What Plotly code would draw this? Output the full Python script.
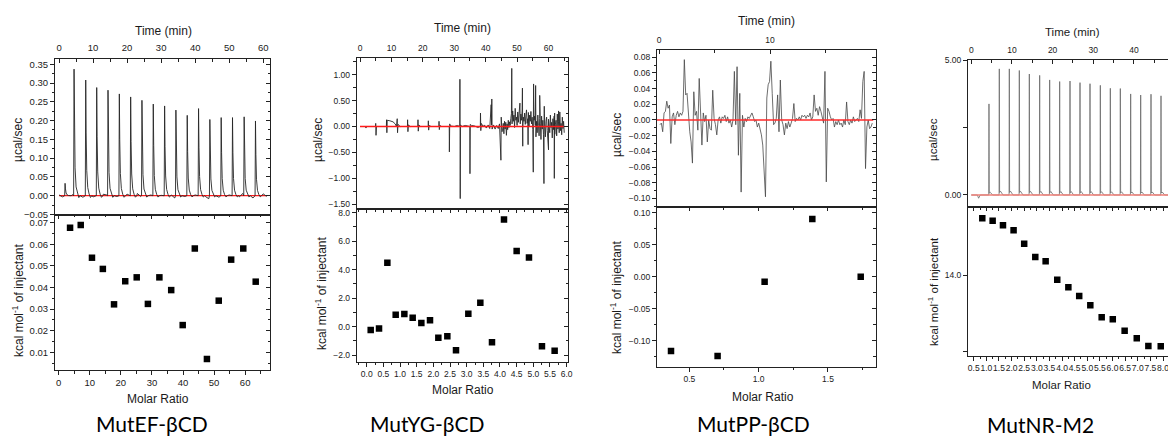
import plotly.graph_objects as go

PAGE_W, PAGE_H = 1176, 436
OFF = 8  # the page body margin that offsets the plot div
W, H = PAGE_W - OFF, PAGE_H - OFF
FONT = "Liberation Sans, Arial, sans-serif"
LABEL_FONT = "Lato, Open Sans, sans-serif"
LINE = "#222222"
TXT = "#1a1a1a"

# ============ DATA ============
# --- Panel 1: MutEF-βCD ---
EF_PEAK_TIME = [1.76, 4.40, 7.83, 11.06, 14.38, 17.71, 21.04, 24.36, 27.69, 31.02,
                34.34, 37.67, 41.00, 44.32, 47.65, 50.98, 54.40, 57.73]
EF_PEAK_HEIGHT = [0.033, 0.337, 0.308, 0.288, 0.281, 0.271, 0.263, 0.254, 0.244, 0.239,
                  0.228, 0.214, 0.232, 0.203, 0.208, 0.208, 0.210, 0.199]
EF_BASE_NOISE = [0.002, -0.003, 0.004, -0.020, 0.003, -0.002, 0.005, -0.004, 0.002, 0.006,
                 -0.003, 0.001, -0.005, 0.004, 0.002, -0.003, 0.005, -0.002, 0.003, -0.006,
                 0.004, 0.001, -0.003, 0.006, -0.002, 0.003, -0.005, 0.002, 0.004, -0.004,
                 0.001, 0.005, -0.003, 0.002, -0.006, 0.004, 0.003, -0.002, 0.005, -0.004,
                 0.002, -0.003, 0.006, -0.002, -0.008, 0.003, 0.005, -0.004, -0.007, 0.004,
                 0.002, -0.005, 0.003, -0.003, 0.006, -0.002, 0.004, -0.006, 0.003, 0.001,
                 0.005, -0.002]
EF_MOLAR = [3.65, 7.08, 10.7, 14.2, 17.8, 21.4, 25.1, 28.7, 32.4, 36.2, 39.9, 43.8,
            47.7, 51.5, 55.5, 59.4, 63.4]
EF_HEAT = [0.0677, 0.0689, 0.0538, 0.0486, 0.0322, 0.0429, 0.0447, 0.0324, 0.0447,
           0.0388, 0.0226, 0.0580, 0.0069, 0.0339, 0.0529, 0.0580, 0.0427]

# --- Panel 2: MutYG-βCD ---
YG_EARLY_T = [0.0, 1.8, 1.9, 2.0, 4.95, 5.0, 5.1, 5.25, 8.4, 8.45, 8.55, 8.65, 9.5, 10.5, 11.2,
              11.6, 11.85, 11.95, 12.1, 12.8, 15.1, 15.15, 15.25, 15.4, 16.0, 18.4, 18.45, 18.55,
              18.7, 19.3, 21.7, 21.75, 21.85, 22.0, 22.6, 25.1, 25.15, 25.25, 25.4, 26.0, 28.4,
              28.45, 28.55, 28.8, 30.0, 31.0, 31.75, 31.8, 31.9, 32.0, 32.5, 33.5, 34.95, 35.0,
              35.1, 35.5, 36.5, 37.5, 38.3, 38.35, 38.45, 38.6, 39.2, 39.6, 40.2, 40.8, 41.3,
              41.75, 41.85, 41.95, 42.05, 42.5, 43.0, 43.5, 44.0, 44.4, 44.85, 44.95, 45.2]
YG_EARLY_V = [0.0, 0.0, -0.03, 0.0, 0.0, 0.06, -0.17, 0.0, 0.0, 0.13, -0.12, 0.12, 0.11, 0.09, 0.05,
              0.0, 0.15, -0.12, 0.04, 0.0, 0.0, 0.13, -0.10, 0.03, 0.0, 0.0, 0.13, -0.09,
              0.03, 0.0, 0.0, 0.11, -0.07, 0.02, 0.0, 0.0, 0.10, -0.06, 0.02, 0.0, 0.0,
              -0.49, 0.05, 0.01, 0.0, 0.02, 0.0, 0.91, -1.39, 0.03, 0.0, 0.02, 0.0, -0.91,
              0.04, 0.02, 0.01, -0.02, 0.0, 0.26, -0.08, 0.06, 0.0, 0.03, -0.03, 0.03, -0.04,
              0.42, 0.03, 0.53, -0.05, 0.03, -0.05, 0.02, -0.04, 0.05, -0.65, 0.18, -0.10]
YG_NOISE_START = 45.4
YG_NOISE_STEP = 0.2
YG_NOISE_V = [-0.08, 0.06, -0.14, 0.10, -0.05, 0.08, -0.17, 0.05, -0.06, 0.12, -0.02, 0.09, 0.02, 0.15,
              0.25, 0.05, 0.30, 0.10, 0.22, -0.02, 0.35, 0.12, 0.18, 0.02, 0.28, 0.08, 0.20, 0.38,
              0.05, 0.24, 0.12, 0.30, -0.04, 0.18, 0.10, 0.26, 0.04, 0.20, 0.32, 0.06, 0.15, 0.27,
              0.00, 0.22, 0.10, 0.29, 0.05, 0.18, -0.06, 0.24, 0.12, 0.20, 0.02, 0.16,
              0.10, -0.12, 0.22, 0.02, -0.18, 0.15, 0.05, -0.25, 0.20, -0.05, 0.12, -0.15, 0.25,
              0.00, -0.20, 0.10, 0.18, -0.08, -0.28, 0.14, 0.05, -0.12, 0.22, -0.02, 0.08, -0.22,
              0.15, -0.06, 0.20, -0.15, 0.04, 0.12, -0.18, 0.24, -0.05, 0.10, -0.12, 0.28, -0.08,
              0.06, -0.16, 0.18, -0.04, 0.10, -0.12]
YG_SPIKE_T = [48.3, 50.9, 51.7, 51.8, 53.5, 55.15, 55.25, 55.9, 56.0, 57.2, 58.55, 58.65, 60.0,
              61.85, 61.95, 63.2]
YG_SPIKE_V = [1.12, 0.45, 0.74, -0.38, -0.35, -0.88, 0.82, 0.79, -0.20, 0.60, -1.10, 0.39, -0.45,
              -1.00, 0.26, 0.30]
YG_MOLAR = [0.12, 0.37, 0.62, 0.87, 1.13, 1.38, 1.64, 1.90, 2.15, 2.42, 2.68, 3.05, 3.41,
            3.76, 4.12, 4.50, 4.87, 5.26, 5.64]
YG_HEAT = [-0.25, -0.13, 4.49, 0.83, 0.88, 0.62, 0.25, 0.44, -0.78, -0.69, -1.67, 0.90,
           1.68, -1.11, 7.53, 5.31, 4.86, -1.39, -1.70]

# --- Panel 3: MutPP-βCD ---
PP_T0 = 0.09
PP_DT = 0.1218
PP_SIGNAL = [-0.006, -0.004, -0.015, 0.009, 0.011, 0.024, 0.015, 0.019, -0.030, 0.004,
             0.009, -0.006, 0.006, 0.011, 0.004, 0.009, 0.006, 0.011, 0.077, 0.032,
             0.034, 0.002, -0.015, -0.028, -0.055, 0.036, 0.006, 0.011, -0.013, 0.053,
             0.002, -0.032, 0.009, -0.002, 0.006, -0.028, 0.000, -0.011, -0.013, 0.038,
             0.002, -0.006, -0.019, 0.000, 0.004, -0.004, 0.004, 0.002, 0.006, -0.002,
             0.004, -0.004, 0.000, -0.009, 0.000, 0.062, -0.006, 0.068, -0.045, 0.034,
             -0.092, 0.006, -0.009, 0.002, -0.002, 0.004, 0.002, 0.006, 0.009, 0.004,
             -0.002, 0.000, -0.009, -0.004, -0.011, -0.019, -0.032, -0.066, -0.098, 0.028,
             0.045, 0.049, 0.075, 0.034, -0.006, -0.004, 0.002, 0.032, -0.015, 0.051,
             0.000, -0.006, -0.019, -0.004, -0.011, -0.002, -0.009, -0.004, 0.002, 0.021,
             -0.002, 0.002, 0.000, 0.004, 0.000, 0.006, 0.004, 0.006, 0.002, 0.006,
             0.004, 0.009, 0.000, 0.004, 0.032, 0.011, 0.015, 0.006, 0.017, 0.011,
             0.004, -0.004, 0.062, -0.079, 0.015, 0.011, 0.004, 0.000, 0.002, -0.009,
             -0.002, -0.006, 0.000, -0.006, -0.004, -0.009, 0.000, -0.006, 0.023, -0.002,
             -0.006, 0.000, -0.004, 0.004, -0.002, 0.000, 0.002, -0.002, 0.013, 0.002,
             0.049, 0.062, -0.062, -0.009, 0.000, -0.011, -0.009, -0.004]
PP_MOLAR = [0.368, 0.704, 1.043, 1.387, 1.736]
PP_HEAT = [-0.116, -0.124, -0.008, 0.090, 0.000]

# --- Panel 4: MutNR-M2 ---
NR_PEAK_TIME = [4.35, 6.89, 9.35, 11.81, 14.27, 16.81, 19.27, 21.73, 24.27, 26.73, 29.19,
                31.73, 34.19, 36.65, 39.19, 41.65, 44.19, 46.65]
NR_PEAK_HEIGHT = [3.38, 4.68, 4.68, 4.62, 4.49, 4.44, 4.27, 4.21, 4.23, 4.17, 4.13, 4.07,
                  3.96, 3.95, 3.75, 3.71, 3.74, 3.68]
NR_BASE_T = [0.0, 1.5, 1.8, 2.2, 48.5]
NR_BASE_V = [0.0, 0.0, -0.12, 0.0, 0.0]
NR_MOLAR = [0.84, 1.25, 1.66, 2.08, 2.50, 2.94, 3.35, 3.81, 4.25, 4.68, 5.12, 5.57, 6.01,
            6.48, 6.96, 7.42, 7.91]
NR_HEAT = [14.746, 14.715, 14.654, 14.589, 14.414, 14.240, 14.183, 13.943, 13.843, 13.729,
           13.607, 13.450, 13.424, 13.275, 13.175, 13.075, 13.071]

NAMES = ["MutEF-βCD", "MutYG-βCD", "MutPP-βCD", "MutNR-M2"]

# ============ trace construction helpers ============
EF_SHAPE = [(-0.12, 0.0), (0.0, 1.0), (0.12, 0.55), (0.3, 0.22), (0.6, 0.07), (1.0, 0.015), (1.4, -0.015), (1.8, 0.0)]
NR_SHAPE = [(-0.06, 0.0), (0.0, 1.0), (0.07, 0.02), (0.3, 0.03), (0.6, 0.008), (0.9, 0.0)]


def build_peaks(peak_t, peak_h, base_t, base_v, shape):
    pts, wins = [], []
    for t, h in zip(peak_t, peak_h):
        for dt, f in shape:
            pts.append((t + dt, f * h))
        wins.append((t + shape[0][0], t + shape[-1][0]))
    for t, v in zip(base_t, base_v):
        if not any(a <= t <= b for a, b in wins):
            pts.append((t, v))
    pts.sort()
    return [p[0] for p in pts], [p[1] for p in pts]


ef_t, ef_v = build_peaks(EF_PEAK_TIME, EF_PEAK_HEIGHT,
                         [i * 1.0 for i in range(len(EF_BASE_NOISE))], EF_BASE_NOISE, EF_SHAPE)
nr_t, nr_v = build_peaks(NR_PEAK_TIME, NR_PEAK_HEIGHT, NR_BASE_T, NR_BASE_V, NR_SHAPE)

yg_pts = list(zip(YG_EARLY_T, YG_EARLY_V))
yg_pts += [(YG_NOISE_START + i * YG_NOISE_STEP, v) for i, v in enumerate(YG_NOISE_V)]
yg_pts += list(zip(YG_SPIKE_T, YG_SPIKE_V))
yg_pts.sort()
yg_t = [p[0] for p in yg_pts]
yg_v = [p[1] for p in yg_pts]

pp_t = [PP_T0 + i * PP_DT for i in range(len(PP_SIGNAL))]
pp_v = PP_SIGNAL

# ============ layout ============
layout = dict(width=W, height=H, margin=dict(l=0, r=0, t=0, b=0),
              paper_bgcolor="white", plot_bgcolor="rgba(0,0,0,0)", showlegend=False)
traces = []
annotations = []
counts = {"x": 0, "y": 0}


def new_axis(letter, **kw):
    counts[letter] += 1
    n = counts[letter]
    suffix = "" if n == 1 else str(n)
    layout[letter + "axis" + suffix] = kw
    return letter + suffix


def akey(name):
    return name[0] + "axis" + name[1:]


def main_axis(rng, dom, side, ticks, fs, dtick=None, minor=None, fmt=None,
              tickvals=None, ticktext=None, minorvals=None, standoff=None):
    d = dict(range=rng, domain=dom, side=side, showline=True, linecolor=LINE, linewidth=1,
             mirror=True, showgrid=False, zeroline=False, ticks=ticks, ticklen=4,
             tickwidth=1, tickcolor=LINE, automargin=False, fixedrange=True, tickangle=0,
             tickfont=dict(family=FONT, size=fs, color=TXT))
    if dtick is not None:
        d.update(dtick=dtick, tick0=0, tickmode="linear")
    if minor is not None:
        d["minor"] = dict(dtick=minor, tick0=0, ticks=ticks, ticklen=2.5, tickwidth=1,
                          tickcolor=LINE, showgrid=False)
    if minorvals is not None:
        d["minor"] = dict(tickmode="array", tickvals=minorvals, ticks=ticks, ticklen=4,
                          tickwidth=1, tickcolor=LINE, showgrid=False)
    if fmt:
        d["tickformat"] = fmt
    if tickvals is not None:
        d.update(tickmode="array", tickvals=tickvals, ticktext=ticktext)
    if standoff is not None:
        d["ticklabelstandoff"] = standoff
    return d


def overlay_axis(rng, side, over, anchor, dtick=None, minor=None, tickvals=None):
    d = dict(range=rng, side=side, overlaying=over, anchor=anchor, showline=False,
             showgrid=False, zeroline=False, ticks="inside", ticklen=4, tickwidth=1,
             tickcolor=LINE, showticklabels=False, fixedrange=True, automargin=False)
    if dtick is not None:
        d.update(dtick=dtick, tick0=0, tickmode="linear")
    if minor is not None:
        d["minor"] = dict(dtick=minor, tick0=0, ticks="inside", ticklen=2.5, tickwidth=1,
                          tickcolor=LINE, showgrid=False)
    if tickvals is not None:
        d.update(tickmode="array", tickvals=tickvals)
    return d


def dx(l, r):
    return [(l - OFF) / W, (r - OFF) / W]


def dy(t, b):
    return [1 - (b - OFF) / H, 1 - (t - OFF) / H]


def pxy(px, py):
    return (px - OFF) / W, 1 - (py - OFF) / H


PANELS = [
    dict(L=55, R=270, T=59, M=214.5, B=370, fs=9.5, tfs=12,
         xt=dict(rng=[-1.2, 62.0], dtick=10, minor=5),
         yt=dict(rng=[-0.05, 0.364], dtick=0.05, minor=0.025, fmt=".2f"),
         xb=dict(rng=[-1.2, 68.0], dtick=10, minor=5),
         yb=dict(rng=[0.0018, 0.0738], dtick=0.01, minor=0.005, fmt=".2f"),
         time=(163, 31), ucal=(18, 140), kcal=(18, 300), molar=(158, 399), name=(152, 423)),
    dict(L=356.7, R=568.3, T=58, M=209, B=361.7, fs=8.5, tfs=12,
         xt=dict(rng=[-1.05, 66.3], dtick=10, minor=5),
         yt=dict(rng=[-1.59, 1.32], dtick=0.5, minor=0.25, fmt=".2f"),
         xb=dict(rng=[-0.30, 6.05], dtick=0.5, minor=0.25, fmt=".1f"),
         yb=dict(rng=[-2.47, 8.26], dtick=2, minor=1, fmt=".1f"),
         time=(463, 28), ucal=(318, 140), kcal=(321, 293), molar=(463, 390), name=(427, 423)),
    dict(L=657, R=875.7, T=50, M=207.3, B=366.7, fs=8.5, tfs=12,
         xt=dict(rng=[-0.18, 19.52], dtick=10, minor=5),
         yt=dict(rng=[-0.1114, 0.0893], dtick=0.02, minor=0.01, fmt=".2f"),
         xb=dict(rng=[0.267, 1.844], dtick=0.5, minor=0.25, fmt=".1f"),
         yb=dict(rng=[-0.1406, 0.1084], dtick=0.05, minor=0.025, fmt=".2f"),
         time=(766, 21), ucal=(617, 135), kcal=(616, 297), molar=(763, 397), name=(753, 423)),
    dict(L=968, R=1175, T=60, M=207.3, B=355.7, fs=8.5, tfs=11.5,
         xt=dict(rng=[-0.81, 50.09], dtick=10, minor=5),
         yt=dict(rng=[-0.457, 5.01], tickvals=[0, 5], ticktext=["0.00", "5.00"], minorvals=[2.5]),
         xb=dict(rng=[0.274, 8.475], dtick=0.5, minor=0.25, fmt=".1f"),
         yb=dict(rng=[12.948, 14.89], tickvals=[14], ticktext=["14.0"], minorvals=[13]),
         time=(1072, 32), ucal=(933, 140), kcal=(933, 292), molar=(1061, 385), name=(1040, 424.5)),
]

RAW = [(ef_t, ef_v, [0, 61]), (yg_t, yg_v, [0, 64.8]), (pp_t, pp_v, [-0.18, 19.3]),
       (nr_t, nr_v, [0, 49])]
INT = [(EF_MOLAR, EF_HEAT), (YG_MOLAR, YG_HEAT), (PP_MOLAR, PP_HEAT), (NR_MOLAR, NR_HEAT)]
RED = ["#ff1a1a", "#ff1a1a", "#ff2a2a", "#f08078"]
RAW_COLOR = ["#262626", "#2a2a2a", "#484848", "#6a6a6a"]
RAW_WIDTH = [0.9, 0.9, 0.8, 0.8]


for i, p in enumerate(PANELS):
    fs = p["fs"]
    # top (raw) plot
    xt = new_axis("x", **main_axis(p["xt"]["rng"], dx(p["L"], p["R"]), "top", "inside", fs,
                                   dtick=p["xt"].get("dtick"), minor=p["xt"].get("minor"),
                                   standoff=3))
    yt = new_axis("y", **main_axis(p["yt"]["rng"], dy(p["T"], p["M"]), "left", "outside", fs,
                                   dtick=p["yt"].get("dtick"), minor=p["yt"].get("minor"),
                                   fmt=p["yt"].get("fmt"), tickvals=p["yt"].get("tickvals"),
                                   ticktext=p["yt"].get("ticktext"),
                                   minorvals=p["yt"].get("minorvals")))
    layout[akey(xt)]["anchor"] = yt
    layout[akey(yt)]["anchor"] = xt
    ytr = new_axis("y", **overlay_axis(p["yt"]["rng"], "right", yt, xt,
                                       dtick=p["yt"].get("dtick"), minor=p["yt"].get("minor"),
                                       tickvals=p["yt"].get("tickvals")))
    # bottom (integrated) plot
    xb = new_axis("x", **main_axis(p["xb"]["rng"], dx(p["L"], p["R"]), "bottom", "outside", fs,
                                   dtick=p["xb"].get("dtick"), minor=p["xb"].get("minor"),
                                   fmt=p["xb"].get("fmt")))
    yb = new_axis("y", **main_axis(p["yb"]["rng"], dy(p["M"], p["B"]), "left", "outside", fs,
                                   dtick=p["yb"].get("dtick"), minor=p["yb"].get("minor"),
                                   fmt=p["yb"].get("fmt"), tickvals=p["yb"].get("tickvals"),
                                   ticktext=p["yb"].get("ticktext"),
                                   minorvals=p["yb"].get("minorvals")))
    layout[akey(xb)]["anchor"] = yb
    layout[akey(yb)]["anchor"] = xb
    ybr = new_axis("y", **overlay_axis(p["yb"]["rng"], "right", yb, xb,
                                       dtick=p["yb"].get("dtick"), minor=p["yb"].get("minor"),
                                       tickvals=p["yb"].get("tickvals")))
    xbt = new_axis("x", **overlay_axis(p["xb"]["rng"], "top", xb, yb,
                                       dtick=p["xb"].get("dtick"), minor=p["xb"].get("minor")))

    rt, rv, red_span = RAW[i]
    red_line = go.Scatter(x=red_span, y=[0, 0], mode="lines", xaxis=xt, yaxis=yt,
                          line=dict(color=RED[i], width=1.3 if i < 3 else 1.6), hoverinfo="skip")
    raw_line = go.Scatter(x=rt, y=rv, mode="lines", xaxis=xt, yaxis=yt,
                          line=dict(color=RAW_COLOR[i], width=RAW_WIDTH[i]), hoverinfo="skip")
    if i == 0:
        traces += [red_line, raw_line]
    else:
        traces += [raw_line, red_line]
    mx, my = INT[i]
    traces.append(go.Scatter(x=mx, y=my, mode="markers", xaxis=xb, yaxis=yb,
                             marker=dict(symbol="square", size=6.5, color="black",
                                         line=dict(width=0)), hoverinfo="skip"))
    # empty traces so the overlay tick axes render
    traces.append(go.Scatter(x=[None], y=[None], xaxis=xt, yaxis=ytr, hoverinfo="skip"))
    traces.append(go.Scatter(x=[None], y=[None], xaxis=xb, yaxis=ybr, hoverinfo="skip"))
    traces.append(go.Scatter(x=[None], y=[None], xaxis=xbt, yaxis=yb, hoverinfo="skip"))

    tf = dict(family=FONT, size=p["tfs"], color=TXT)
    for txt, pos, ang in [("Time (min)", p["time"], 0), ("µcal/sec", p["ucal"], -90),
                          ("kcal mol<sup>-1</sup> of injectant", p["kcal"], -90),
                          ("Molar Ratio", p["molar"], 0)]:
        x, y = pxy(*pos)
        annotations.append(dict(text=txt, x=x, y=y, xref="paper", yref="paper",
                                xanchor="center", yanchor="middle", showarrow=False,
                                textangle=ang, font=tf))
    x, y = pxy(*p["name"])
    annotations.append(dict(text=NAMES[i], x=x, y=y, xref="paper", yref="paper",
                            xanchor="center", yanchor="middle", showarrow=False,
                            font=dict(family=LABEL_FONT, size=21, color="black")))

layout["annotations"] = annotations
fig = go.Figure(data=traces, layout=layout)
fig.write_html("out.html")
